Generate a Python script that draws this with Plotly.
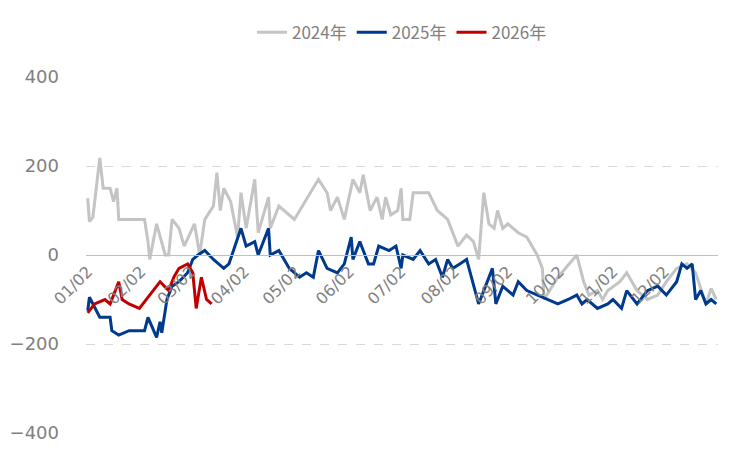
import plotly.graph_objects as go
import pandas as pd

base = pd.Timestamp("2024-01-02")

d24 = [0,1,3,7,9,13,15,17,18,20,33,35,36,40,45,47,49,53,56,62,65,68,73,75,77,79,83,87,89,92,97,99,105,106,111,120,123,134,139,141,145,149,154,158,160,164,168,171,173,176,180,182,183,187,189,198,203,209,215,220,224,227,230,233,236,238,241,244,250,255,261,264,265,273,284,288,291,296,299,302,309,313,319,325,331,336,342,348,353,359,362,365]
v24 = [128,75,85,218,150,150,120,150,80,80,80,30,-10,70,0,0,80,60,20,70,0,80,110,185,100,150,120,40,140,60,170,50,130,60,110,80,100,170,140,100,130,80,170,140,180,100,130,80,130,90,100,150,80,80,140,140,100,80,20,45,30,-10,140,70,60,100,60,70,50,40,0,-30,-100,-50,0,-60,-90,-80,-100,-80,-60,-40,-80,-100,-90,-60,-30,-20,-40,-110,-75,-100]

d25 = [0,1,7,13,14,18,24,33,35,40,42,43,46,49,53,58,61,64,68,73,79,82,89,92,97,99,105,106,111,117,123,127,131,134,139,145,149,153,154,158,163,166,169,175,179,182,183,189,193,198,202,206,209,212,216,220,227,232,235,237,241,247,250,255,261,267,273,279,284,287,290,296,302,305,310,313,319,325,331,336,342,345,348,351,353,356,359,362,365]
v25 = [-125,-95,-140,-140,-170,-180,-170,-170,-140,-185,-150,-175,-100,-70,-60,-40,-10,0,10,-10,-30,-20,60,20,30,0,60,0,10,-30,-50,-40,-50,10,-30,-40,-20,40,-10,30,-20,-20,20,10,20,-30,0,-10,10,-20,-10,-50,-10,-30,-20,-10,-110,-60,-30,-110,-70,-90,-60,-80,-90,-100,-110,-100,-90,-110,-100,-120,-110,-100,-120,-80,-110,-80,-70,-90,-60,-20,-30,-20,-100,-80,-110,-100,-110]

d26 = [0,4,10,13,16,18,20,24,30,36,42,47,50,53,58,61,63,66,69,72]
v26 = [-130,-110,-100,-110,-80,-60,-100,-110,-120,-90,-60,-80,-50,-30,-20,-40,-120,-50,-100,-110]

def dates(ds):
    return [base + pd.Timedelta(days=d) for d in ds]

fig = go.Figure()
fig.add_trace(go.Scatter(x=dates(d24), y=v24, mode="lines", name="2024年", line=dict(color="#c4c4c4", width=3)))
fig.add_trace(go.Scatter(x=dates(d25), y=v25, mode="lines", name="2025年", line=dict(color="#003a8c", width=3)))
fig.add_trace(go.Scatter(x=dates(d26), y=v26, mode="lines", name="2026年", line=dict(color="#c00000", width=3)))

ticks = [pd.Timestamp(f"2024-{m:02d}-02") for m in range(1, 13)]
fig.update_layout(
    width=750, height=449, plot_bgcolor="white", paper_bgcolor="white",
    margin=dict(l=78, r=40, t=69, b=24, autoexpand=False),
    font=dict(family="DejaVu Sans", color="#808080", size=17),
    legend=dict(orientation="h", x=0.5, xanchor="center", y=0.945, yref="container", yanchor="middle",
                font=dict(size=17, family="Noto Sans CJK SC")),
    xaxis=dict(range=[base - pd.Timedelta(days=1), base + pd.Timedelta(days=366)],
               tickvals=ticks, ticktext=[t.strftime("%m/%d") for t in ticks], tickangle=-45,
               anchor="free", position=0.5, showgrid=False, showline=True, linecolor="#bfbfbf",
               ticks="", automargin=False, tickfont=dict(size=16, color="#808080")),
    yaxis=dict(range=[-400, 400], dtick=200, showgrid=True, gridcolor="#d9d9d9", griddash="dash",
               zeroline=False, ticks="", automargin=False, ticklabelstandoff=26,
               tickfont=dict(size=18, color="#808080")),
)
fig.write_html("out.html")
